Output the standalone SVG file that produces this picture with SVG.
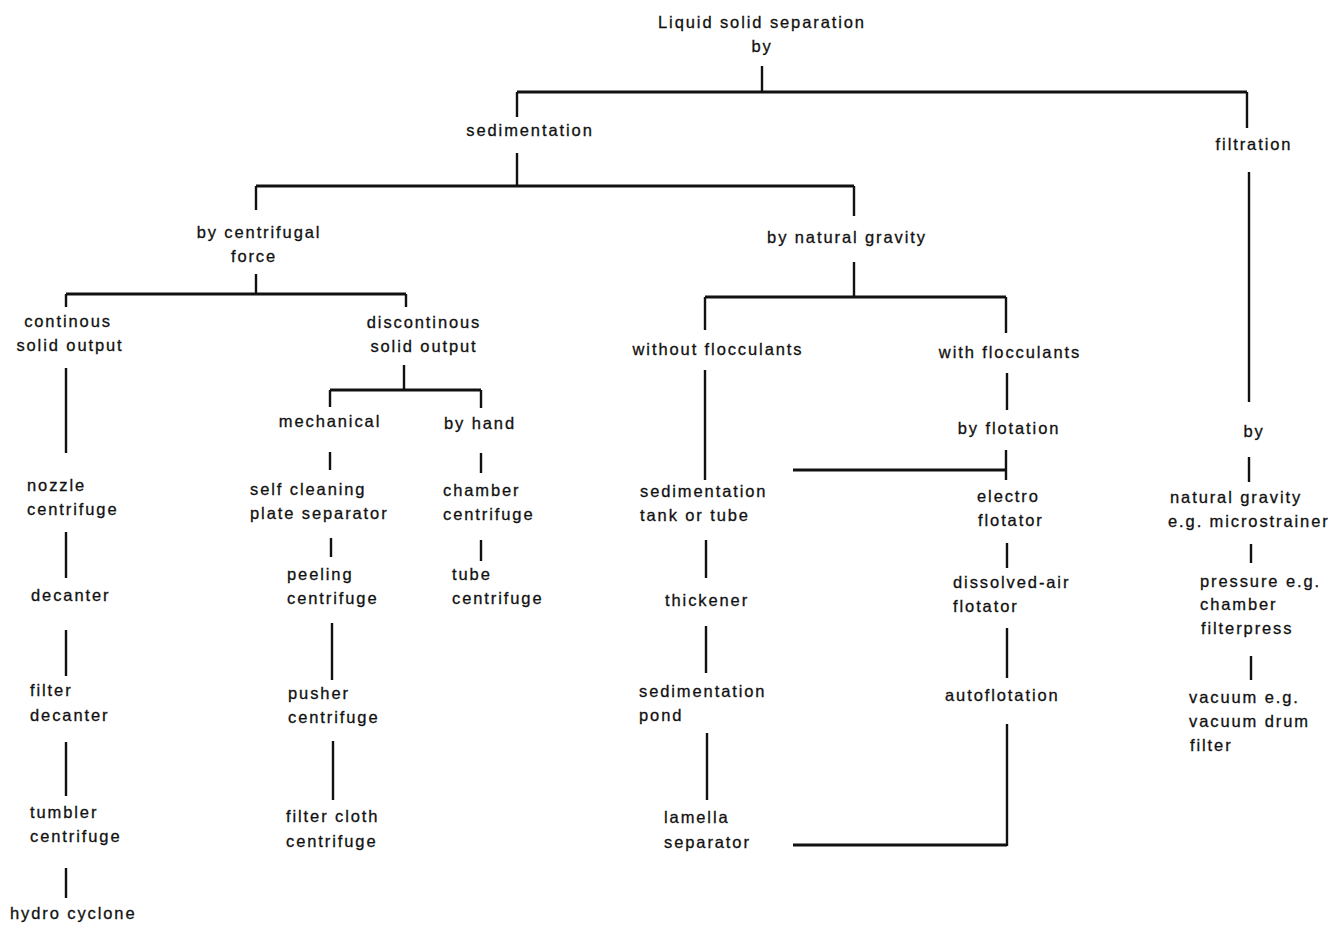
<svg xmlns="http://www.w3.org/2000/svg" width="1329" height="925" viewBox="0 0 1329 925">
<style>
.t{font-family:"Liberation Sans",Arial,sans-serif;font-size:16.5px;letter-spacing:1.9px;fill:#111;stroke:#111;stroke-width:0.3}
.c{text-anchor:middle}
.ln{stroke:#111;stroke-width:2.4;fill:none}
.hl{stroke:#111;stroke-width:3;fill:none}
</style>
<rect width="1329" height="925" fill="#fff"/>
<g id="connectors">
<path class="ln" d="M762 66V92"/>
<path class="hl" d="M517 92H1247"/>
<path class="ln" d="M517 92V117M1247 92V128"/>
<path class="ln" d="M517 153V186"/>
<path class="hl" d="M256 186H854"/>
<path class="ln" d="M256 186V210M854 186V216"/>
<path class="ln" d="M256 274V294"/>
<path class="hl" d="M66 294H406"/>
<path class="ln" d="M66 294V307M406 294V307"/>
<path class="ln" d="M66 368V453M66 532V578M66 630V676M66 742V796M66 868V898"/>
<path class="ln" d="M404 365V390"/>
<path class="hl" d="M330 390H481"/>
<path class="ln" d="M330 390V407M481 390V408"/>
<path class="ln" d="M330 452V470M331 538V557M332 623V680M333 741V800"/>
<path class="ln" d="M481 453V473M481 540V561"/>
<path class="ln" d="M854 262V297"/>
<path class="hl" d="M705 297H1006"/>
<path class="ln" d="M705 297V330M1006 297V333"/>
<path class="ln" d="M705 370V480M706 540V578M706 626V673M707 733V800"/>
<path class="ln" d="M1007 373V410M1006 450V480"/>
<path class="hl" d="M793 470H1006"/>
<path class="ln" d="M1007 543V568M1007 628V678M1007 724V846"/>
<path class="hl" d="M793 845H1007"/>
<path class="ln" d="M1249 172V402M1249 457V482M1251 544V563M1251 656V680"/>
</g>
<g id="n-root"><text class="t c" x="762" y="28">Liquid solid separation</text><text class="t c" x="762" y="52">by</text></g>
<g id="n-sedimentation"><text class="t c" x="530" y="136">sedimentation</text></g>
<g id="n-filtration"><text class="t c" x="1254" y="150">filtration</text></g>
<g id="n-centrifugal"><text class="t c" x="259" y="238">by centrifugal</text><text class="t c" x="254" y="262">force</text></g>
<g id="n-natural-gravity"><text class="t c" x="847" y="243">by natural gravity</text></g>
<g id="n-continous"><text class="t c" x="68" y="327">continous</text><text class="t c" x="70" y="351">solid output</text></g>
<g id="n-discontinous"><text class="t c" x="424" y="328">discontinous</text><text class="t c" x="424" y="352">solid output</text></g>
<g id="n-nozzle"><text class="t" x="27" y="491">nozzle</text><text class="t" x="27" y="515">centrifuge</text></g>
<g id="n-decanter"><text class="t" x="31" y="601">decanter</text></g>
<g id="n-filter-decanter"><text class="t" x="30" y="696">filter</text><text class="t" x="30" y="721">decanter</text></g>
<g id="n-tumbler"><text class="t" x="30" y="818">tumbler</text><text class="t" x="30" y="842">centrifuge</text></g>
<g id="n-hydro"><text class="t" x="10" y="919">hydro cyclone</text></g>
<g id="n-mechanical"><text class="t c" x="330" y="427">mechanical</text></g>
<g id="n-by-hand"><text class="t c" x="480" y="429">by hand</text></g>
<g id="n-self-cleaning"><text class="t" x="250" y="495">self cleaning</text><text class="t" x="250" y="519">plate separator</text></g>
<g id="n-peeling"><text class="t" x="287" y="580">peeling</text><text class="t" x="287" y="604">centrifuge</text></g>
<g id="n-pusher"><text class="t" x="288" y="699">pusher</text><text class="t" x="288" y="723">centrifuge</text></g>
<g id="n-filter-cloth"><text class="t" x="286" y="822">filter cloth</text><text class="t" x="286" y="847">centrifuge</text></g>
<g id="n-chamber"><text class="t" x="443" y="496">chamber</text><text class="t" x="443" y="520">centrifuge</text></g>
<g id="n-tube"><text class="t" x="452" y="580">tube</text><text class="t" x="452" y="604">centrifuge</text></g>
<g id="n-without"><text class="t c" x="718" y="355">without flocculants</text></g>
<g id="n-with"><text class="t c" x="1010" y="358">with flocculants</text></g>
<g id="n-flotation"><text class="t c" x="1009" y="434">by flotation</text></g>
<g id="n-sed-tank"><text class="t" x="640" y="497">sedimentation</text><text class="t" x="640" y="521">tank or tube</text></g>
<g id="n-thickener"><text class="t" x="665" y="606">thickener</text></g>
<g id="n-sed-pond"><text class="t" x="639" y="697">sedimentation</text><text class="t" x="639" y="721">pond</text></g>
<g id="n-lamella"><text class="t" x="664" y="823">lamella</text><text class="t" x="664" y="848">separator</text></g>
<g id="n-electro"><text class="t" x="977" y="502">electro</text><text class="t" x="978" y="526">flotator</text></g>
<g id="n-dissolved"><text class="t" x="953" y="588">dissolved-air</text><text class="t" x="953" y="612">flotator</text></g>
<g id="n-autoflotation"><text class="t" x="945" y="701">autoflotation</text></g>
<g id="n-by-filt"><text class="t c" x="1254" y="437">by</text></g>
<g id="n-natural"><text class="t" x="1170" y="503">natural gravity</text><text class="t" x="1168" y="527">e.g. microstrainer</text></g>
<g id="n-pressure"><text class="t" x="1200" y="587">pressure e.g.</text><text class="t" x="1200" y="610">chamber</text><text class="t" x="1201" y="634">filterpress</text></g>
<g id="n-vacuum"><text class="t" x="1189" y="703">vacuum e.g.</text><text class="t" x="1189" y="727">vacuum drum</text><text class="t" x="1190" y="751">filter</text></g>
</svg>
